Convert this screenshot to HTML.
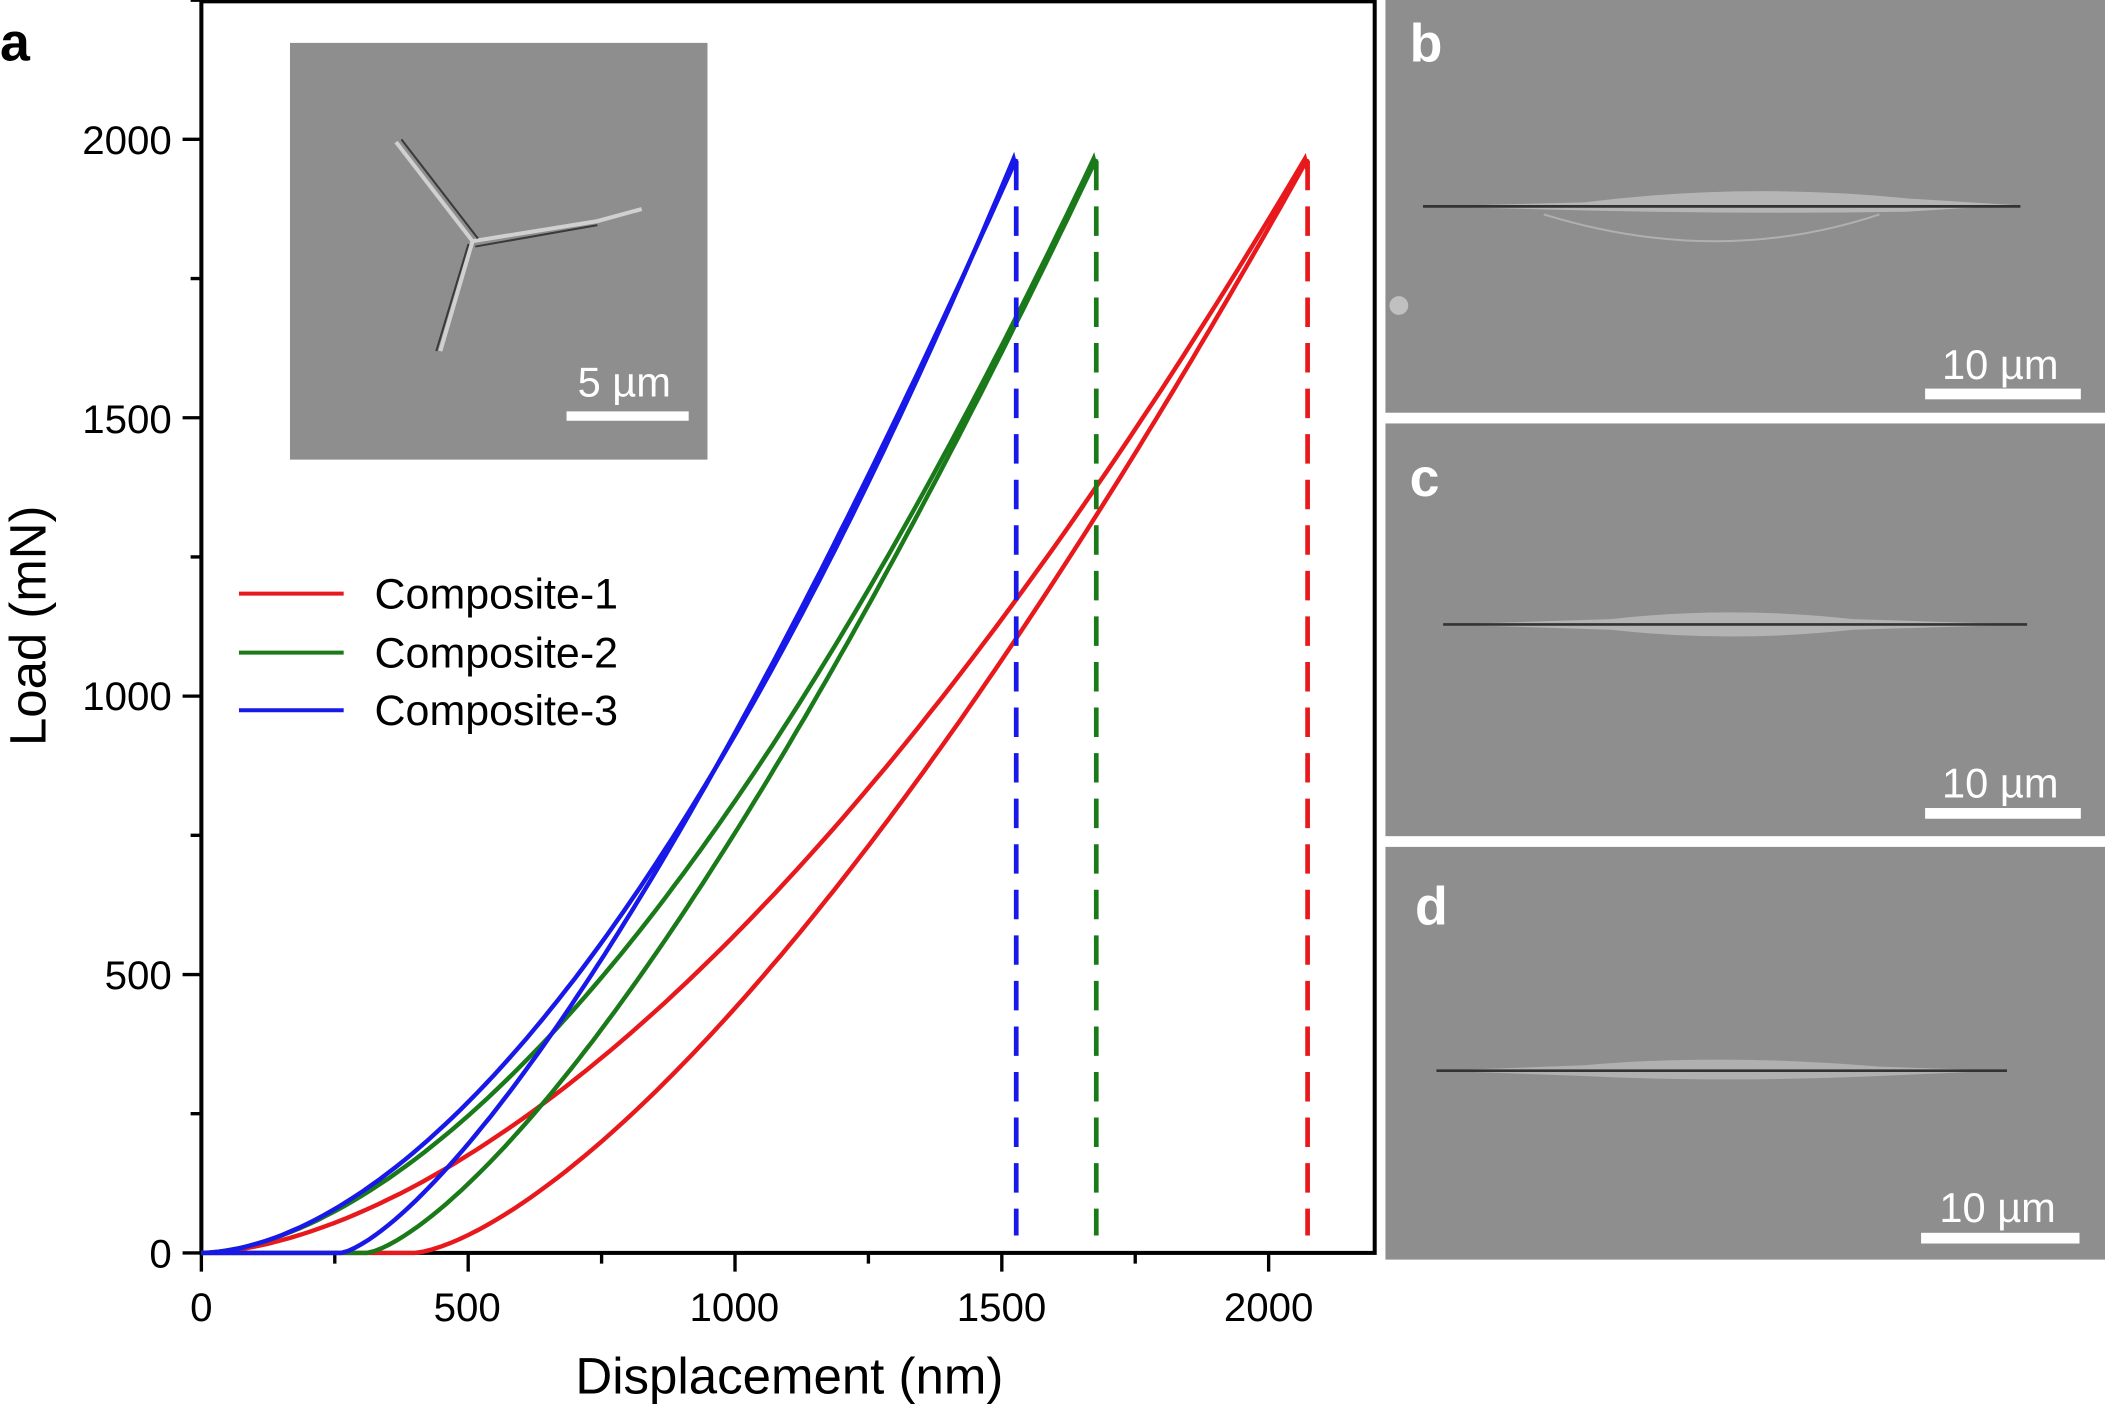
<!DOCTYPE html>
<html><head><meta charset="utf-8"><style>
html,body{margin:0;padding:0;background:#fff;}
svg{display:block;}
text{font-family:"Liberation Sans",Arial,sans-serif;}
</style></head><body>
<svg id="s" width="2105" height="1407" viewBox="0 0 1568 1050" preserveAspectRatio="none" xmlns="http://www.w3.org/2000/svg">
<rect width="1568" height="1050" fill="#fff"/>
<g>
<rect x="1032" y="0" width="536" height="308" fill="#8e8e8e"/>
<rect x="1032" y="316" width="536" height="308" fill="#8e8e8e"/>
<rect x="1032" y="632" width="536" height="308" fill="#8e8e8e"/>
<path d="M1060 154 L1180 151 Q1300 136 1420 148 L1500 153 L1420 158 Q1300 160 1180 157 Z" fill="#b5b5b5"/>
<line x1="1060" y1="154" x2="1505" y2="154" stroke="#333" stroke-width="2"/>
<path d="M1150 160 Q1280 200 1400 160" stroke="#b0b0b0" fill="none" stroke-width="1.5"/>
<circle cx="1042" cy="228" r="7" fill="#c0c0c0"/>
<path d="M1075 466 L1200 462 Q1290 452 1380 462 L1510 466 L1380 470 Q1290 480 1200 470 Z" fill="#b3b3b3"/>
<line x1="1075" y1="466" x2="1510" y2="466" stroke="#333" stroke-width="2"/>
<path d="M1070 799 L1180 795 Q1280 786 1400 796 L1490 799 L1400 803 Q1280 808 1180 803 Z" fill="#b0b0b0"/>
<line x1="1070" y1="799" x2="1495" y2="799" stroke="#333" stroke-width="2"/>
<text x="1050" y="46" font-size="40" font-weight="bold" fill="#fff">b</text>
<text x="1050" y="370" font-size="40" font-weight="bold" fill="#fff">c</text>
<text x="1054" y="690" font-size="40" font-weight="bold" fill="#fff">d</text>
<g fill="#fff" font-size="31" text-anchor="middle">
<text x="1490" y="283">10 µm</text><rect x="1434" y="290" width="116" height="8"/>
<text x="1490" y="595">10 µm</text><rect x="1434" y="603" width="116" height="8"/>
<text x="1488" y="912">10 µm</text><rect x="1431" y="920" width="118" height="8"/>
</g>
</g>
<rect x="150" y="1" width="874" height="934" fill="none" stroke="#000" stroke-width="3"/>
<g id="ticks" stroke="#000" stroke-width="2.5"></g>
<g font-size="30" fill="#000">
<g text-anchor="middle">
<text x="150" y="986">0</text><text x="348" y="986">500</text><text x="547" y="986">1000</text><text x="746" y="986">1500</text><text x="945" y="986">2000</text>
</g>
<g text-anchor="end">
<text x="128" y="946">0</text><text x="128" y="738">500</text><text x="128" y="530">1000</text><text x="128" y="323">1500</text><text x="128" y="115">2000</text>
</g>
</g>
<text x="588" y="1040" font-size="38" text-anchor="middle">Displacement (nm)</text>
<text transform="translate(34,467) rotate(-90)" font-size="38" text-anchor="middle">Load (mN)</text>
<text x="0" y="45" font-size="40" font-weight="bold">a</text>
<rect x="216" y="32" width="311" height="311" fill="#8e8e8e"/>
<g stroke="#d0d0d0" stroke-width="3" fill="none">
<path d="M352 180 L295 106"/><path d="M352 180 L445 165 L478 156"/><path d="M352 180 L328 262"/>
</g>
<g stroke="#3a3a3a" stroke-width="1.5" fill="none">
<path d="M356 178 L299 104"/><path d="M354 184 L445 168"/><path d="M349 182 L325 262"/>
</g>
<text x="465" y="296" font-size="31" fill="#fff" text-anchor="middle">5 µm</text>
<rect x="422" y="307" width="91" height="7" fill="#fff"/>
<g stroke-width="3">
<line x1="178" y1="443" x2="256" y2="443" stroke="#e8191c"/>
<line x1="178" y1="487" x2="256" y2="487" stroke="#1a7a1a"/>
<line x1="178" y1="530" x2="256" y2="530" stroke="#1818e8"/>
</g>
<g font-size="32"><text x="279" y="454">Composite-1</text><text x="279" y="498">Composite-2</text><text x="279" y="541">Composite-3</text></g>
<g id="curves" fill="none" stroke-width="3.3"></g>
</svg>
<script>
var NS="http://www.w3.org/2000/svg";
function X(h){return 150+h*0.3975;} function Y(p){return 935-p*0.4155;}
var t=document.getElementById('ticks'),d="";
for(var v=0;v<=2200;v+=250){var x=X(v);d+="M"+x+" 935 L"+x+" "+(v%500==0?949:943);}
for(var v=0;v<=2250;v+=250){var y=Y(v);if(y<0)continue;d+="M150 "+y+" L"+(v%500==0?136:142)+" "+y;}
var p=document.createElementNS(NS,'path');p.setAttribute('d',d);t.appendChild(p);
var c=document.getElementById('curves');
function add(d,col,dash,w){var e=document.createElementNS(NS,'path');e.setAttribute('d',d);e.setAttribute('stroke',col);if(dash)e.setAttribute('stroke-dasharray',dash);if(w)e.setAttribute('stroke-width',w);c.appendChild(e);}
var S=[{hm:2068,h0:400,kh:745,col:"#e8191c",e:1.7,m:1.46},{hm:1672,h0:310,kh:615,col:"#1a7a1a",e:1.72,m:1.4},{hm:1522,h0:262,kh:555,col:"#1818e8",e:1.78,m:1.38}];
S.forEach(function(s){var P=1965,d="";
for(var i=0;i<=100;i++){var h=s.hm*i/100;d+=(i?"L":"M")+X(h).toFixed(1)+" "+Y(P*Math.pow(h/s.hm,s.e)).toFixed(1);}
d+="L"+X(s.hm+5)+" "+Y(P-20);
var u="";for(var i=100;i>=0;i--){var h=s.h0+(s.hm+5-s.h0)*i/100;u+=(i<100?"L":"M")+X(h).toFixed(1)+" "+Y(P*Math.pow((h-s.h0)/(s.hm+5-s.h0),s.m)).toFixed(1);}
u+="L"+X(0)+" "+Y(0);
add(d,s.col);add(u,s.col);
add("M"+X(s.hm+5)+" 120 L"+X(s.hm+5)+" 922",s.col,"22 12",3.5);});
</script>
</body></html>
